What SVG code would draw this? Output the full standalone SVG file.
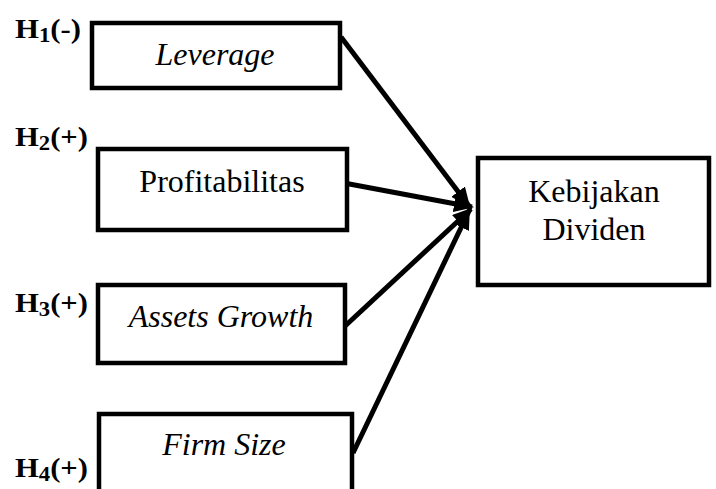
<svg xmlns="http://www.w3.org/2000/svg" width="716" height="489" viewBox="0 0 716 489">
<defs>
<style>
.box{fill:#fff;stroke:#000;stroke-width:4.5}
.t{font-family:"Liberation Serif","Times New Roman",serif;font-size:32px;fill:#000;text-anchor:middle}
.i{font-style:italic}
.h{font-family:"Liberation Serif","Times New Roman",serif;font-size:27px;font-weight:bold;fill:#000}
.sub{font-size:20px}
.c{stroke:#000;stroke-width:5;fill:none;marker-end:url(#ah)}
</style>
<marker id="ah" markerWidth="4" markerHeight="3.4" refX="3.6" refY="1.7" orient="auto" markerUnits="strokeWidth">
<path d="M0,0 L4,1.7 L0,3.4 Z" fill="#000"/>
</marker>
</defs>
<rect width="716" height="489" fill="#fff"/>
<g id="connectors">
<line class="c" x1="341" y1="37" x2="469" y2="206"/>
<line class="c" x1="344" y1="183" x2="472" y2="207"/>
<line class="c" x1="344" y1="327" x2="471" y2="209"/>
<line class="c" x1="353" y1="453" x2="469" y2="211"/>
</g>
<g id="leverage">
<rect class="box" x="92" y="23" width="248" height="65"/>
<text class="t i" x="215" y="65">Leverage</text>
</g>
<g id="profitabilitas">
<rect class="box" x="98" y="149" width="249" height="81"/>
<text class="t" x="222" y="192">Profitabilitas</text>
</g>
<g id="assets-growth">
<rect class="box" x="98" y="285" width="247" height="78"/>
<text class="t i" x="221" y="327">Assets Growth</text>
</g>
<g id="firm-size">
<rect class="box" x="99" y="414" width="253" height="90"/>
<text class="t i" x="224" y="455">Firm Size</text>
</g>
<g id="kebijakan-dividen">
<rect class="box" x="478" y="158" width="231" height="127"/>
<text class="t" x="594" y="202">Kebijakan</text>
<text class="t" x="594" y="240">Dividen</text>
</g>
<g id="labels">
<text class="h" x="15" y="38" textLength="66" lengthAdjust="spacingAndGlyphs">H<tspan class="sub" dy="4">1</tspan><tspan dy="-4">(-)</tspan></text>
<text class="h" x="15" y="146" textLength="73" lengthAdjust="spacingAndGlyphs">H<tspan class="sub" dy="4">2</tspan><tspan dy="-4">(+)</tspan></text>
<text class="h" x="15" y="312" textLength="73" lengthAdjust="spacingAndGlyphs">H<tspan class="sub" dy="4">3</tspan><tspan dy="-4">(+)</tspan></text>
<text class="h" x="15" y="477" textLength="73" lengthAdjust="spacingAndGlyphs">H<tspan class="sub" dy="4">4</tspan><tspan dy="-4">(+)</tspan></text>
</g>
</svg>
